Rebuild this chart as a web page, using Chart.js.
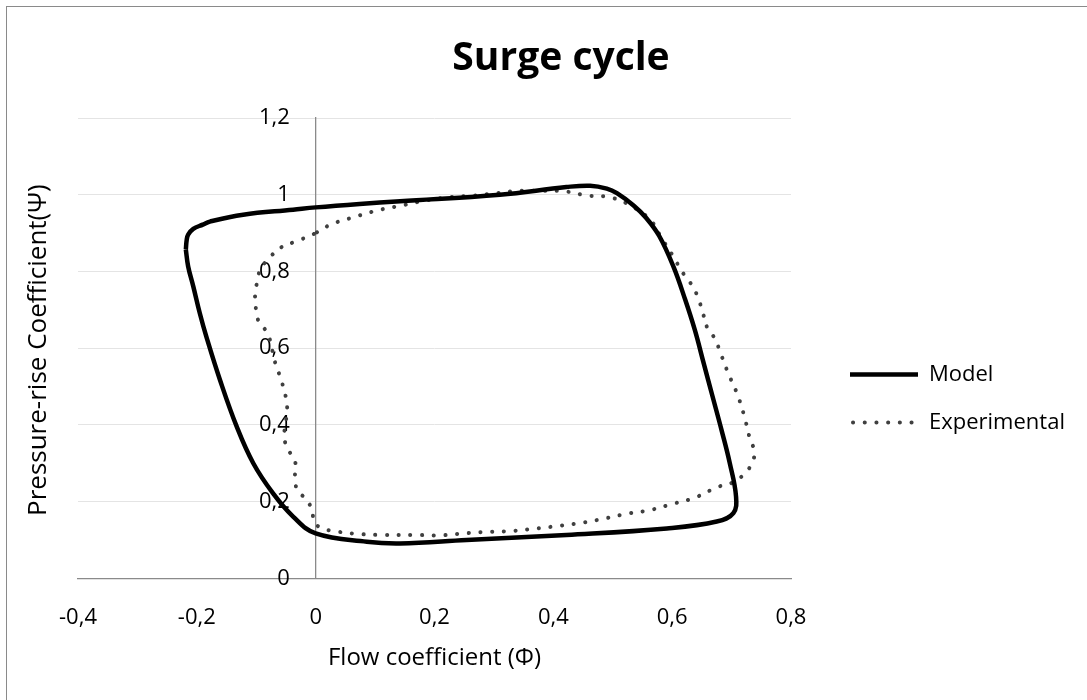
<!DOCTYPE html>
<html>
<head>
<meta charset="utf-8">
<script src="https://cdn.jsdelivr.net/npm/chart.js@4.4.1/dist/chart.umd.min.js"></script>
<style>
  html, body { margin: 0; padding: 0; background: #fff; overflow: hidden; }
  #wrap { position: relative; width: 1087px; height: 700px; }
  #frame { position: absolute; left: 6px; top: 6px; width: 1200px; height: 800px; border: 1.5px solid #8a8a8a; box-sizing: border-box; }
  canvas { position: absolute; left: 0; top: 0; }
</style>
</head>
<body>
<div id="wrap">
  <div id="frame"></div>
  <canvas id="myChart" width="1087" height="700"></canvas>
</div>
<script>
'use strict';

// Data (Flow coefficient, Pressure-rise coefficient)
var modelX = [-0.2185, -0.217, -0.2146, -0.206, -0.19, -0.178, -0.122, -0.038, 0, 0.074, 0.142, 0.31, 0.422, 0.462, 0.49, 0.507,
    0.535, 0.556, 0.578, 0.602, 0.622, 0.638, 0.653, 0.668, 0.683, 0.697, 0.7075, 0.703, 0.675, 0.591, 0.422, 0.254,
    0.142, 0.086, 0, -0.038, -0.072, -0.105, -0.133, -0.161, -0.184, -0.195, -0.206, -0.2146, -0.2185];
var modelY = [0.857, 0.883, 0.896, 0.911, 0.922, 0.930, 0.948, 0.961, 0.967, 0.976, 0.983, 1.0, 1.02, 1.0235, 1.016, 1.004,
    0.972, 0.940, 0.893, 0.813, 0.726, 0.648, 0.561, 0.474, 0.387, 0.300, 0.213, 0.17, 0.148, 0.13, 0.113, 0.1,
    0.091, 0.0955, 0.117, 0.161, 0.222, 0.30, 0.396, 0.517, 0.630, 0.691, 0.761, 0.813, 0.857];

var expX = [-0.0025, 0.028, 0.0655, 0.1035, 0.142, 0.182, 0.2215, 0.261, 0.300, 0.339, 0.379, 0.418, 0.457, 0.4965,
    0.533, 0.564, 0.581, 0.599, 0.619, 0.635, 0.645, 0.652, 0.660, 0.672, 0.680, 0.694, 0.7096, 0.7215, 0.731,
    0.738, 0.7355, 0.724, 0.705, 0.675, 0.638, 0.601, 0.563, 0.523, 0.484, 0.445, 0.4055, 0.366, 0.327, 0.288,
    0.248, 0.209, 0.167, 0.108, 0.069, 0.031, 0.008, -0.003, -0.006, -0.016, -0.030, -0.035, -0.034, -0.045,
    -0.053, -0.051, -0.048, -0.056, -0.0687, -0.080, -0.097, -0.1007, -0.102, -0.0995, -0.093, -0.078, -0.059,
    -0.030, -0.0025];
var expY = [0.898, 0.924, 0.942, 0.959, 0.971, 0.984, 0.993, 0.997, 1.003, 1.010, 1.010, 1.009, 0.998, 0.993,
    0.969, 0.933, 0.890, 0.846, 0.794, 0.760, 0.725, 0.690, 0.650, 0.625, 0.593, 0.536, 0.480, 0.422, 0.363,
    0.333, 0.303, 0.277, 0.252, 0.237, 0.210, 0.194, 0.178, 0.168, 0.155, 0.144, 0.136, 0.129, 0.123, 0.121,
    0.117, 0.112, 0.113, 0.113, 0.116, 0.123, 0.132, 0.150, 0.178, 0.206, 0.228, 0.258, 0.300, 0.333,
    0.365, 0.400, 0.446, 0.507, 0.565, 0.635, 0.674, 0.704, 0.735, 0.765, 0.805, 0.835, 0.862,
    0.880, 0.898];

var seriesNames = ['Model', 'Experimental'];
var xTicks = [-0.4, -0.2, 0, 0.2, 0.4, 0.6, 0.8];
var yTicks = [0, 0.2, 0.4, 0.6, 0.8, 1, 1.2];

var titleText = 'Surge cycle';
var xTitleText = 'Flow coefficient (\u03A6)';
var yTitleText = 'Pressure-rise Coefficient(\u03A8)';

var FONT = '"Open Sans", sans-serif';
var plotRight = 791;       // right edge of the plot area
var legendLeft = 824;      // legend box starts here, samples at legendLeft + legendPad
var legendPad = 26;
var legendSample = 68;
var legendFont = 22;

function toPoints(xs, ys) {
    var pts = [];
    for (var i = 0; i < xs.length; i++) {
        pts.push({ x: xs[i], y: ys[i] });
    }
    return pts;
}

function commaLabel(value) {
    return String(Math.round(value * 10) / 10).replace('.', ',');
}

function fixedTicks(list) {
    return function (axis) {
        axis.ticks = list.map(function (v) { return { value: v }; });
    };
}

// title and rotated y title drawn where Excel puts them
var chartText = {
    id: 'chartText',
    afterDraw: function (chart) {
        var c = chart.ctx;
        var area = chart.chartArea;
        c.save();
        c.fillStyle = '#000';
        c.textAlign = 'center';
        c.textBaseline = 'alphabetic';
        c.font = 'bold 39px ' + FONT;
        c.fillText(titleText, 561, 70);
        c.translate(39, (area.top + area.bottom) / 2 + 2);
        c.rotate(-Math.PI / 2);
        c.textBaseline = 'middle';
        c.font = '26px ' + FONT;
        c.fillText(yTitleText, 0, 0);
        c.restore();
    }
};

Chart.defaults.font.family = FONT;
Chart.defaults.color = '#000';

var ctx = document.getElementById('myChart').getContext('2d');

// legend width as Chart.js will fit it; the gap axis keeps the plot edge in place
ctx.font = legendFont + 'px ' + FONT;
var legendWidth = Math.ceil(legendPad + legendSample + legendFont / 2 +
    Math.max(ctx.measureText(seriesNames[0]).width, ctx.measureText(seriesNames[1]).width)) + 2;
var gapWidth = legendLeft - plotRight;
var padRight = Math.max(0, 1087 - legendLeft - legendWidth);

var chart = new Chart(ctx, {
    type: 'scatter',
    data: {
        datasets: [{
                label: seriesNames[0],
                data: toPoints(modelX, modelY),
                showLine: true,
                borderColor: '#000',
                backgroundColor: '#000',
                borderWidth: 4.5,
                borderJoinStyle: 'round',
                pointRadius: 0,
                tension: 0.4
            },
            {
                label: seriesNames[1],
                data: toPoints(expX, expY),
                showLine: true,
                borderColor: '#404040',
                backgroundColor: '#404040',
                borderWidth: 4,
                borderDash: [0.1, 11.6],
                borderDashOffset: 8.7,
                borderCapStyle: 'round',
                pointRadius: 0,
                tension: 0.4
            }
        ]
    },
    options: {
        responsive: false,
        animation: false,
        layout: {
            padding: { left: 78, top: 118, right: padRight, bottom: 26.9 }
        },
        plugins: {
            title: { display: false },
            tooltip: { enabled: false },
            legend: {
                position: 'right',
                fullSize: true,
                maxWidth: legendWidth,
                title: { display: true, text: '', font: { size: 5 }, padding: 0 },
                labels: {
                    usePointStyle: true,
                    pointStyle: 'line',
                    pointStyleWidth: legendSample,
                    padding: legendPad,
                    color: '#000',
                    font: { size: legendFont },
                    generateLabels: function (chart) {
                        var items = Chart.defaults.plugins.legend.labels.generateLabels(chart);
                        items.forEach(function (item) {
                            var ds = chart.data.datasets[item.datasetIndex];
                            item.lineDash = ds.borderDash || [];
                            item.lineDashOffset = ds.borderDashOffset || 0;
                            item.lineCap = ds.borderCapStyle || 'butt';
                            item.lineWidth = ds.borderWidth;
                            item.strokeStyle = ds.borderColor;
                        });
                        return items;
                    }
                }
            }
        },
        scales: {
            x: {
                type: 'linear',
                min: xTicks[0],
                max: xTicks[xTicks.length - 1],
                afterBuildTicks: fixedTicks(xTicks),
                ticks: { padding: 26, font: { size: 22 }, color: '#000', callback: commaLabel },
                grid: { display: false, drawTicks: false },
                border: { color: '#8a8a8a', width: 1.3 },
                title: {
                    display: true, text: xTitleText, color: '#000',
                    font: { size: 24, lineHeight: 0.1 },
                    padding: { top: 0, bottom: 14 }
                }
            },
            y: {
                type: 'linear',
                position: { x: 0 },
                min: yTicks[0],
                max: yTicks[yTicks.length - 1],
                afterBuildTicks: fixedTicks(yTicks),
                ticks: { display: false },
                grid: {
                    drawTicks: false,
                    color: function (c) { return c.tick && c.tick.value === 0 ? 'rgba(0,0,0,0)' : '#e4e4e4'; }
                },
                border: { color: '#8a8a8a', width: 1.3 }
            },
            // tick labels sit a little left of the x = 0 axis line
            yLabels: {
                type: 'linear',
                position: { x: -0.0435 },
                min: yTicks[0],
                max: yTicks[yTicks.length - 1],
                afterBuildTicks: fixedTicks(yTicks),
                ticks: { padding: 0, font: { size: 22 }, color: '#000', callback: commaLabel },
                grid: { display: false, drawTicks: false },
                border: { display: false }
            },
            gap: {
                type: 'linear',
                position: 'right',
                min: 0,
                max: 1,
                grid: { display: false, drawTicks: false },
                border: { display: false },
                ticks: { display: false },
                afterFit: function (axis) { axis.width = gapWidth; }
            }
        }
    },
    plugins: [chartText]
});
</script>
</body>
</html>
